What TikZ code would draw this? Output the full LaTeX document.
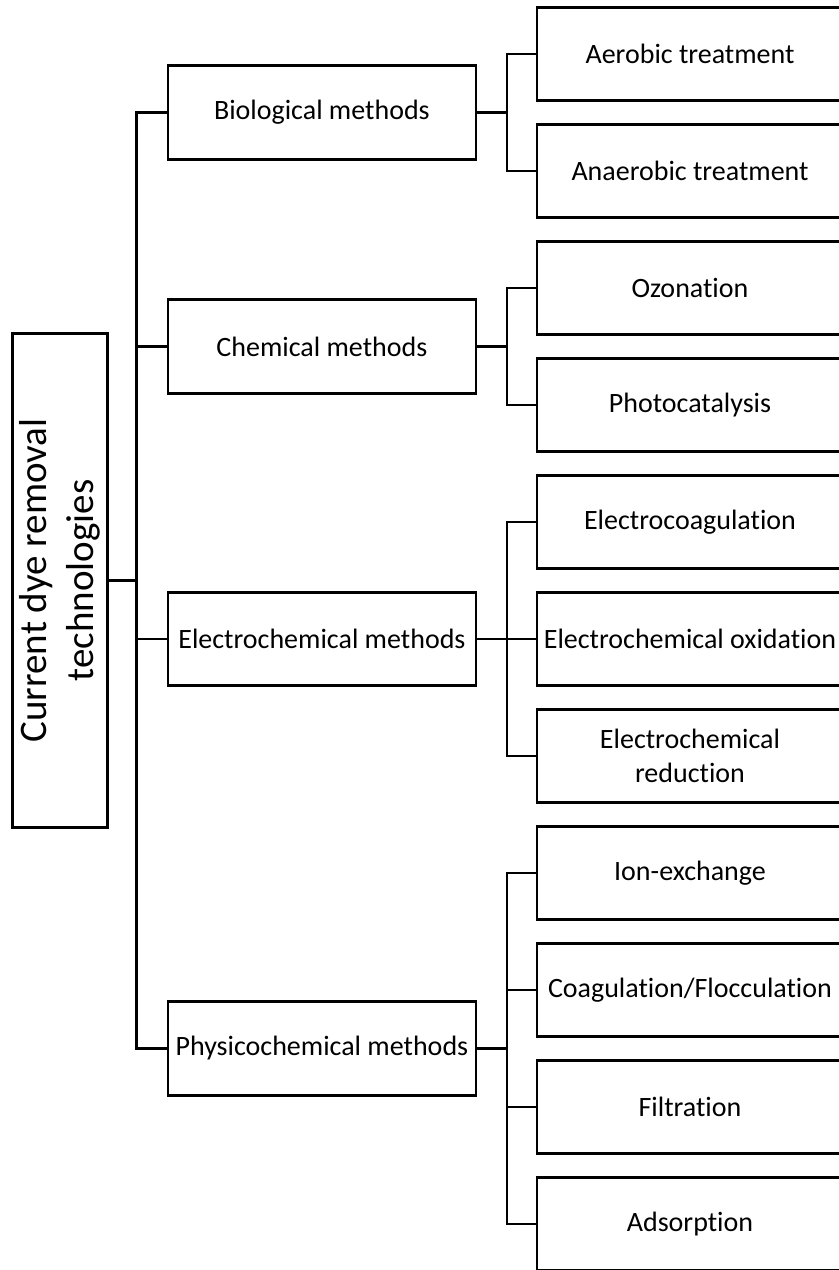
\documentclass[tikz,border=0pt]{standalone}
\usepackage{fontspec}
\setmainfont{Carlito}[Ligatures=NoCommon]
\usepackage{graphicx}
\usetikzlibrary{positioning,calc}

\begin{document}
\begin{tikzpicture}[x=0.5pt,y=-0.5pt,line width=1.35pt,node distance=10.65pt,
  every node/.style={font=\fontsize{14}{16.8}\selectfont},
  tech/.style={draw,minimum width=153pt,minimum height=46.5pt,inner sep=1pt,align=center},
  method/.style={draw,minimum width=154pt,minimum height=46.75pt,inner sep=1pt,anchor=east,xshift=-29.2pt},
  topic/.style={draw,minimum width=47.5pt,minimum height=247pt,inner sep=0pt,anchor=east,xshift=-28.7pt,
                font=\fontsize{19.5}{23.5}\selectfont},
  elbow/.style={line width=1.35pt,to path={-- ++(#1,0) |- (\tikztotarget)}}]

 \useasboundingbox (0,0) rectangle (839,1270);

 % techniques
 \node[tech] (aer)                 at (690,54) {Aerobic treatment};
 \node[tech] (anaer) [below=of aer]   {Anaerobic treatment};
 \node[tech] (ozo)   [below=of anaer] {Ozonation};
 \node[tech] (photo) [below=of ozo]   {Photocatalysis};
 \node[tech] (ecoag) [below=of photo] {Electrocoagulation};
 \node[tech] (eox)   [below=of ecoag] {Electrochemical oxidation};
 \node[tech] (ered)  [below=of eox]   {Electrochemical\\reduction};
 \node[tech] (ionx)  [below=of ered]  {Ion-exchange};
 \node[tech] (coag)  [below=of ionx]  {Coagulation/Flocculation};
 \node[tech] (filt)  [below=of coag]  {Filtration};
 \node[tech] (ads)   [below=of filt]  {Adsorption};

 % method groups
 \node[method] (bio)  at ($(aer.west)!0.5!(anaer.west)$) {Biological methods};
 \node[method] (chem) at ($(ozo.west)!0.5!(photo.west)$) {Chemical methods};
 \node[method] (elec) at (eox.west)                      {Electrochemical methods};
 \node[method] (phys) at ($(coag.west)!0.5!(filt.west)$) {Physicochemical methods};

 \node[topic] (root) at ($(bio.west)!0.5!(phys.west)$)
   {\rotatebox{90}{\begin{tabular}{@{}c@{}}Current dye removal\\technologies\end{tabular}}};

 \path (root.east) edge[elbow=13.8pt] (bio.west)
                   edge[elbow=13.8pt] (chem.west)
                   edge[elbow=13.8pt] (elec.west)
                   edge[elbow=13.8pt] (phys.west)
       (bio.east)  edge[elbow=14.8pt] (aer.west)
                   edge[elbow=14.8pt] (anaer.west)
       (chem.east) edge[elbow=14.8pt] (ozo.west)
                   edge[elbow=14.8pt] (photo.west)
       (elec.east) edge[elbow=14.8pt] (ecoag.west)
                   edge[elbow=14.8pt] (eox.west)
                   edge[elbow=14.8pt] (ered.west)
       (phys.east) edge[elbow=14.8pt] (ionx.west)
                   edge[elbow=14.8pt] (coag.west)
                   edge[elbow=14.8pt] (filt.west)
                   edge[elbow=14.8pt] (ads.west);
\end{tikzpicture}
\end{document}
